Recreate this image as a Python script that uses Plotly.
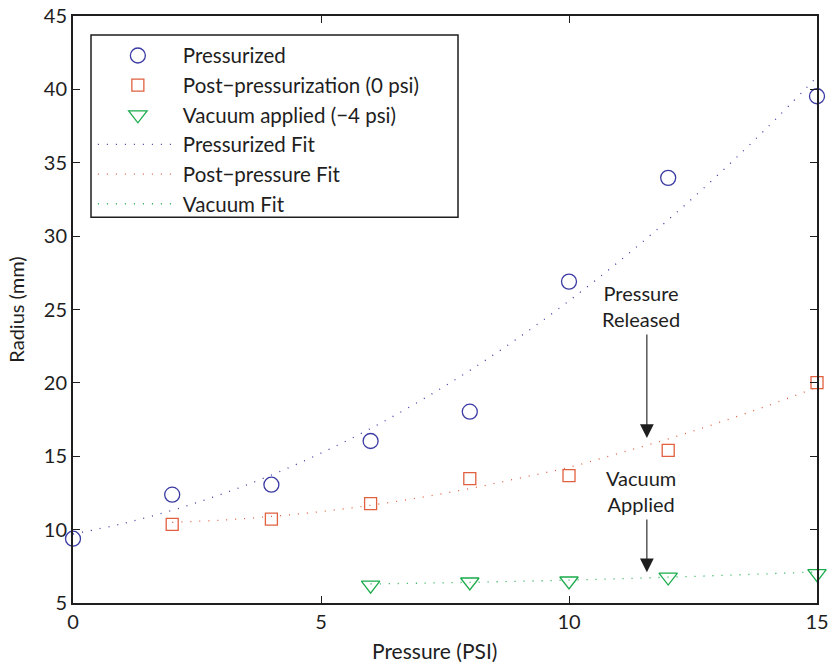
import plotly.graph_objects as go

# Measured data
press_x = [0, 2, 4, 6, 8, 10, 12, 15]
press_y = [9.38, 12.38, 13.06, 16.04, 18.04, 26.9, 33.97, 39.53]

post_x = [2, 4, 6, 8, 10, 12, 15]
post_y = [10.36, 10.72, 11.77, 13.47, 13.68, 15.4, 20.02]

vac_x = [6, 8, 10, 12, 15]
vac_y = [6.22, 6.43, 6.5, 6.77, 7.0]

# Fit curves
press_fit_x = [0, 1, 2, 3, 4, 5, 6, 7, 8, 9, 10, 11, 12, 13, 14, 15]
press_fit_y = [9.70, 10.41, 11.32, 12.42, 13.72, 15.21, 16.89, 18.78, 20.85,
               23.12, 25.59, 28.25, 31.11, 34.16, 37.41, 40.85]

post_fit_x = [2, 3, 4, 5, 6, 7, 8, 9, 10, 11, 12, 13, 14, 15]
post_fit_y = [10.50, 10.65, 10.90, 11.23, 11.66, 12.19, 12.80, 13.51, 14.25,
              15.20, 16.18, 17.27, 18.44, 19.70]

vac_fit_x = [6, 7, 8, 9, 10, 11, 12, 13, 14, 15]
vac_fit_y = [6.30, 6.35, 6.41, 6.48, 6.56, 6.65, 6.76, 6.87, 6.99, 7.12]

BLUE = "#3b3ba3"
RED = "#e0603f"
GREEN = "#1aab4b"
FONT = "Lato"
TXT = "#1e1e1e"

fig = go.Figure()
fig.add_trace(go.Scatter(x=press_x, y=press_y, mode="markers", name="Pressurized",
                         marker=dict(symbol="circle-open", size=15, color=BLUE, line=dict(width=1.3)),
                         cliponaxis=False))
fig.add_trace(go.Scatter(x=post_x, y=post_y, mode="markers", name="Post\u2212pressurization (0 psi)",
                         marker=dict(symbol="square-open", size=12, color=RED, line=dict(width=1.3)),
                         cliponaxis=False))
fig.add_trace(go.Scatter(x=vac_x, y=vac_y, mode="markers", name="Vacuum applied (\u22124 psi)",
                         marker=dict(symbol="triangle-down-open", size=16, color=GREEN, line=dict(width=1.3)),
                         cliponaxis=False))
fig.add_trace(go.Scatter(x=press_fit_x, y=press_fit_y, mode="lines", name="Pressurized Fit",
                         line=dict(color=BLUE, width=1.3, dash="1px,8px", shape="spline")))
fig.add_trace(go.Scatter(x=post_fit_x, y=post_fit_y, mode="lines", name="Post\u2212pressure Fit",
                         line=dict(color=RED, width=1.3, dash="1px,8px", shape="spline")))
fig.add_trace(go.Scatter(x=vac_fit_x, y=vac_fit_y, mode="lines", name="Vacuum Fit",
                         line=dict(color=GREEN, width=1.3, dash="1px,8px", shape="spline")))

ann_font = dict(family=FONT, size=20, color=TXT)
annotations = [
    dict(x=11.45, y=25.25, xref="x", yref="y", text="Pressure<br>Released", showarrow=False, font=ann_font),
    dict(x=11.57, y=16.25, ax=11.57, ay=23.4, xref="x", yref="y", axref="x", ayref="y",
         text="", showarrow=True, arrowhead=2, arrowsize=2.5, arrowwidth=1.1, arrowcolor=TXT),
    dict(x=11.45, y=12.65, xref="x", yref="y", text="Vacuum<br>Applied", showarrow=False, font=ann_font),
    dict(x=11.57, y=7.1, ax=11.57, ay=10.8, xref="x", yref="y", axref="x", ayref="y",
         text="", showarrow=True, arrowhead=2, arrowsize=2.5, arrowwidth=1.1, arrowcolor=TXT),
    dict(x=(434 - 73) / 744, y=-0.081, xref="paper", yref="paper", text="Pressure (PSI)",
         showarrow=False, xanchor="center", yanchor="middle",
         font=dict(family=FONT, size=21, color=TXT)),
]

# legend frame (drawn as a shape so its width matches the original box)
legend_box = dict(type="rect", xref="paper", yref="paper",
                  x0=(91 - 73) / 744, x1=(458 - 73) / 744,
                  y0=(602.6 - 217) / 586.7, y1=(602.6 - 35) / 586.7,
                  line=dict(color=TXT, width=1.5), fillcolor="white", layer="above")

axis_common = dict(showline=True, linecolor=TXT, linewidth=2, mirror="ticks",
                   ticks="inside", ticklen=7, tickwidth=1.2, tickcolor=TXT,
                   showgrid=False, zeroline=False, automargin=False,
                   tickfont=dict(family=FONT, size=20, color=TXT))

fig.update_layout(
    width=833, height=666,
    margin=dict(l=73, r=16, t=16, b=63),
    paper_bgcolor="white", plot_bgcolor="white",
    font=dict(family=FONT, size=20, color=TXT),
    xaxis=dict(range=[0, 15], tickvals=[0, 5, 10, 15], **axis_common),
    yaxis=dict(range=[5, 45], tickvals=[5, 10, 15, 20, 25, 30, 35, 40, 45],
               title=dict(text="Radius (mm)", font=dict(family=FONT, size=20, color=TXT), standoff=14),
               **axis_common),
    legend=dict(x=0.0267, y=0.9665, xanchor="left", yanchor="top",
                borderwidth=0, bgcolor="rgba(0,0,0,0)",
                font=dict(family=FONT, size=20.5, color=TXT),
                itemwidth=80, tracegroupgap=0),
    shapes=[legend_box],
    annotations=annotations,
    showlegend=True,
)

fig.write_html("out.html")
